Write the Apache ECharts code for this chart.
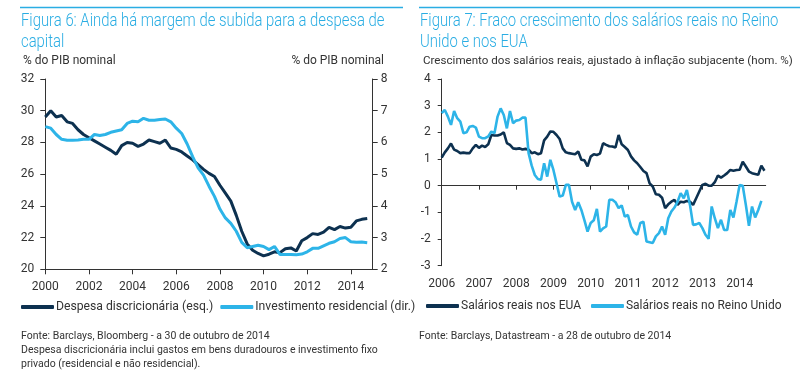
<!DOCTYPE html>
<html>
<head>
<meta charset="utf-8">
<script src="https://cdn.jsdelivr.net/npm/echarts@6/dist/echarts.min.js"></script>
<style>
html,body{margin:0;padding:0;background:#fff;}
#c{width:811px;height:381px;}
</style>
</head>
<body>
<div id="c"></div>
<script>
// ---- Figura 6 (quarterly, starting 2000 Q1) ----
var fig6Start = 2000;
var fig6Years = [2000, 2002, 2004, 2006, 2008, 2010, 2012, 2014];
var despesa = [29.6,30.0,29.6,29.7, 29.3,29.2,28.8,28.5, 28.3,28.1,27.9,27.7, 27.5,27.25,27.8,28.0,
  27.95,27.75,27.9,28.15, 28.05,27.95,28.15,27.65, 27.56,27.4,27.15,26.9, 26.6,26.3,26.05,25.85,
  25.3,24.8,24.3,23.4, 22.4,21.6,21.2,21.0, 20.85,20.95,21.1,21.05, 21.3,21.35,21.15,21.8,
  22.0,22.25,22.2,22.35, 22.65,22.5,22.7,22.6, 22.65,23.05,23.15,23.2];
var investimento = [6.5,6.45,6.25,6.1, 6.07,6.07,6.08,6.1, 6.1,6.25,6.22,6.25, 6.32,6.36,6.4,6.6,
  6.67,6.65,6.76,6.7, 6.7,6.72,6.74,6.65, 6.45,6.28,5.95,5.55, 5.2,4.97,4.62,4.3,
  3.9,3.62,3.45,3.2, 2.85,2.68,2.72,2.76, 2.72,2.62,2.72,2.47, 2.47,2.47,2.46,2.48,
  2.55,2.66,2.66,2.74, 2.82,2.87,2.97,3.0, 2.87,2.85,2.86,2.84];

// ---- Figura 7 (monthly, starting Jan 2006) ----
var fig7Start = 2006;
var fig7Years = [2006, 2007, 2008, 2009, 2010, 2011, 2012, 2013, 2014];
var salariosEUA = [
  1.05,1.25,1.4,1.58,1.35,1.3,1.22,1.24,1.22,1.22,1.4,1.53,
  1.42,1.5,1.45,1.55,1.9,1.88,1.88,1.92,2.0,1.6,1.53,1.4,
  1.38,1.4,1.36,1.38,1.35,1.22,1.25,1.18,1.22,1.7,1.84,2.03,
  2.02,1.9,1.75,1.4,1.25,1.22,1.2,1.18,1.28,0.97,0.95,0.72,
  1.09,1.18,1.15,1.2,1.59,1.53,1.48,1.47,1.43,1.9,1.55,1.45,
  1.34,1.1,0.95,0.84,0.7,0.55,0.47,0.09,-0.03,-0.32,-0.34,-0.45,
  -0.84,-0.7,-0.6,-0.53,-0.72,-0.6,-0.62,-0.57,-0.6,-0.72,-0.47,-0.22,
  0.03,0.07,0.0,0.0,0.13,0.38,0.3,0.38,0.47,0.59,0.56,0.59,
  0.6,0.9,0.72,0.53,0.47,0.44,0.41,0.75,0.56];
var salariosRU = [
  2.72,2.84,2.59,2.28,2.8,2.53,2.4,1.97,2.0,2.21,2.24,2.18,
  1.84,1.78,1.78,1.85,2.03,1.97,2.59,2.9,2.65,2.15,2.8,2.34,
  2.44,2.46,2.55,2.55,1.22,0.75,0.4,0.25,0.22,0.84,0.34,0.97,
  0.59,0.09,-0.41,-0.37,0.03,0.03,-0.6,-0.91,-0.62,-0.91,-1.3,-1.72,
  -1.4,-1.3,-0.87,-1.72,-1.6,-1.53,-0.53,-0.53,-0.62,-0.84,-0.74,-1.16,
  -1.1,-1.53,-1.75,-1.84,-1.4,-1.35,-2.09,-2.12,-2.15,-1.9,-1.78,-1.53,
  -1.84,-1.22,-0.97,-0.82,-0.6,-0.28,-0.47,-0.16,-0.72,-1.47,-1.45,-1.4,
  -1.59,-1.84,-1.99,-0.78,-1.22,-1.59,-1.28,-1.66,-1.66,-0.91,-1.19,-0.6,
  0.03,0.0,-0.72,-1.5,-0.78,-1.19,-0.91,-0.57];

function pairs(start, perYear, vals) {
  return vals.map(function (v, i) { return [start + i / perYear, v]; });
}

var DARK = '#0D3150';
var LIGHT = '#2DB4E8';
var TITLE = '#2AADE3';
var TXT = '#333333';
var FONT = 'Roboto';

var chart = echarts.init(document.getElementById('c'), null, {renderer: 'canvas'});

var tick = {show: true, inside: false, length: 5, lineStyle: {color: TXT, width: 1}};
var axLine = {show: true, onZero: false, lineStyle: {color: TXT, width: 1}};
var lab = {color: TXT, fontFamily: FONT, fontSize: 12};

function plain(size, extra) {
  return Object.assign({fontFamily: FONT, fontWeight: 'normal', fontSize: size, color: TXT}, extra || {});
}

var option = {
  animation: false,
  backgroundColor: '#fff',
  textStyle: {fontFamily: FONT},
  title: [
    {text: '% do PIB nominal', left: 23, top: 55, padding: 0, textStyle: plain(12)},
    {text: '% do PIB nominal', right: 427, top: 55, padding: 0, textStyle: plain(12)},
    {text: 'Crescimento dos salários reais, ajustado à inflação subjacente (hom. %)', left: 423, top: 55, padding: 0,
     textStyle: plain(11.6)},
    {text: 'Fonte: Barclays, Bloomberg - a 30 de outubro de 2014\nDespesa discricionária inclui gastos em bens duradouros e investimento fixo\nprivado (residencial e não residencial).',
     left: 21, top: 329, padding: 0, textStyle: plain(10.5, {lineHeight: 14})},
    {text: 'Fonte: Barclays, Datastream - a 28 de outubro de 2014', left: 419, top: 329, padding: 0,
     textStyle: plain(10.5, {lineHeight: 14})}
  ],
  graphic: [
    {type: 'line', shape: {x1: 20, y1: 7.5, x2: 403, y2: 7.5}, style: {stroke: TITLE, lineWidth: 1.5}},
    {type: 'line', shape: {x1: 419, y1: 7.5, x2: 800, y2: 7.5}, style: {stroke: TITLE, lineWidth: 1.5}},
    {type: 'text', x: 21, y: 11.5, scaleX: 0.825, scaleY: 1,
     style: {text: 'Figura 6: Ainda há margem de subida para a despesa de\ncapital', fill: TITLE,
             fontFamily: FONT, fontWeight: 300, fontSize: 18, lineHeight: 20.5, verticalAlign: 'top', align: 'left'}},
    {type: 'text', x: 420, y: 11.5, scaleX: 0.825, scaleY: 1,
     style: {text: 'Figura 7: Fraco crescimento dos salários reais no Reino\nUnido e nos EUA', fill: TITLE,
             fontFamily: FONT, fontWeight: 300, fontSize: 18, lineHeight: 20.5, verticalAlign: 'top', align: 'left'}}
  ],
  legend: [
    {left: 21, top: 301, padding: 0, itemGap: 7, itemWidth: 33, itemHeight: 4, icon: 'roundRect',
     textStyle: {fontFamily: FONT, fontSize: 12.2, color: TXT, padding: [0, 0, 0, -3]},
     data: ['Despesa discricionária (esq.)', 'Investimento residencial (dir.)']},
    {left: 426, top: 300, padding: 0, itemGap: 10, itemWidth: 33, itemHeight: 4, icon: 'roundRect',
     textStyle: {fontFamily: FONT, fontSize: 12, color: TXT, padding: [0, 0, 0, -3]},
     data: ['Salários reais nos EUA', 'Salários reais no Reino Unido']}
  ],
  grid: [
    {left: 45.3, right: 438.3, top: 79, bottom: 111.7, containLabel: false},
    {left: 441.7, right: 45.3, top: 79, bottom: 115.3, containLabel: false}
  ],
  xAxis: [
    {type: 'value', gridIndex: 0, position: 'bottom', min: 2000, max: 2015,
     axisLine: axLine, splitLine: {show: false},
     axisTick: Object.assign({}, tick, {customValues: fig6Years}),
     axisLabel: Object.assign({}, lab, {margin: 12, customValues: fig6Years, formatter: function (v) { return String(v); }})},
    {type: 'value', gridIndex: 1, position: 'bottom', min: 2006, max: 2014.7,
     axisLine: {show: true, onZero: true, lineStyle: {color: TXT, width: 1}}, splitLine: {show: false},
     axisTick: Object.assign({}, tick, {length: 4, customValues: fig7Years}),
     axisLabel: {show: false}},
    {type: 'value', gridIndex: 1, position: 'bottom', min: 2006, max: 2014.7,
     axisLine: {show: false, onZero: false}, splitLine: {show: false}, axisTick: {show: false},
     axisLabel: Object.assign({}, lab, {margin: 12, customValues: fig7Years, formatter: function (v) { return String(v); }})}
  ],
  yAxis: [
    {type: 'value', gridIndex: 0, position: 'left', min: 20, max: 32, interval: 2,
     axisLine: axLine, axisTick: tick, splitLine: {show: false},
     axisLabel: Object.assign({}, lab, {margin: 11})},
    {type: 'value', gridIndex: 0, position: 'right', min: 2, max: 8, interval: 1,
     axisLine: axLine, axisTick: tick, splitLine: {show: false},
     axisLabel: Object.assign({}, lab, {margin: 8})},
    {type: 'value', gridIndex: 1, position: 'left', min: -3, max: 4, interval: 1,
     axisLine: axLine, axisTick: Object.assign({}, tick, {length: 4}), splitLine: {show: false},
     axisLabel: Object.assign({}, lab, {margin: 11})}
  ],
  series: [
    {name: 'Despesa discricionária (esq.)', type: 'line', xAxisIndex: 0, yAxisIndex: 0,
     data: pairs(fig6Start, 4, despesa), showSymbol: false, smooth: false,
     lineStyle: {color: DARK, width: 3}, itemStyle: {color: DARK}},
    {name: 'Investimento residencial (dir.)', type: 'line', xAxisIndex: 0, yAxisIndex: 1,
     data: pairs(fig6Start, 4, investimento), showSymbol: false,
     lineStyle: {color: LIGHT, width: 3}, itemStyle: {color: LIGHT}},
    {name: 'Salários reais nos EUA', type: 'line', xAxisIndex: 1, yAxisIndex: 2,
     data: pairs(fig7Start, 12, salariosEUA), showSymbol: false,
     lineStyle: {color: DARK, width: 2.6}, itemStyle: {color: DARK}},
    {name: 'Salários reais no Reino Unido', type: 'line', xAxisIndex: 1, yAxisIndex: 2,
     data: pairs(fig7Start, 12, salariosRU), showSymbol: false,
     lineStyle: {color: LIGHT, width: 2.6}, itemStyle: {color: LIGHT}}
  ]
};
chart.setOption(option);
</script>
</body>
</html>
